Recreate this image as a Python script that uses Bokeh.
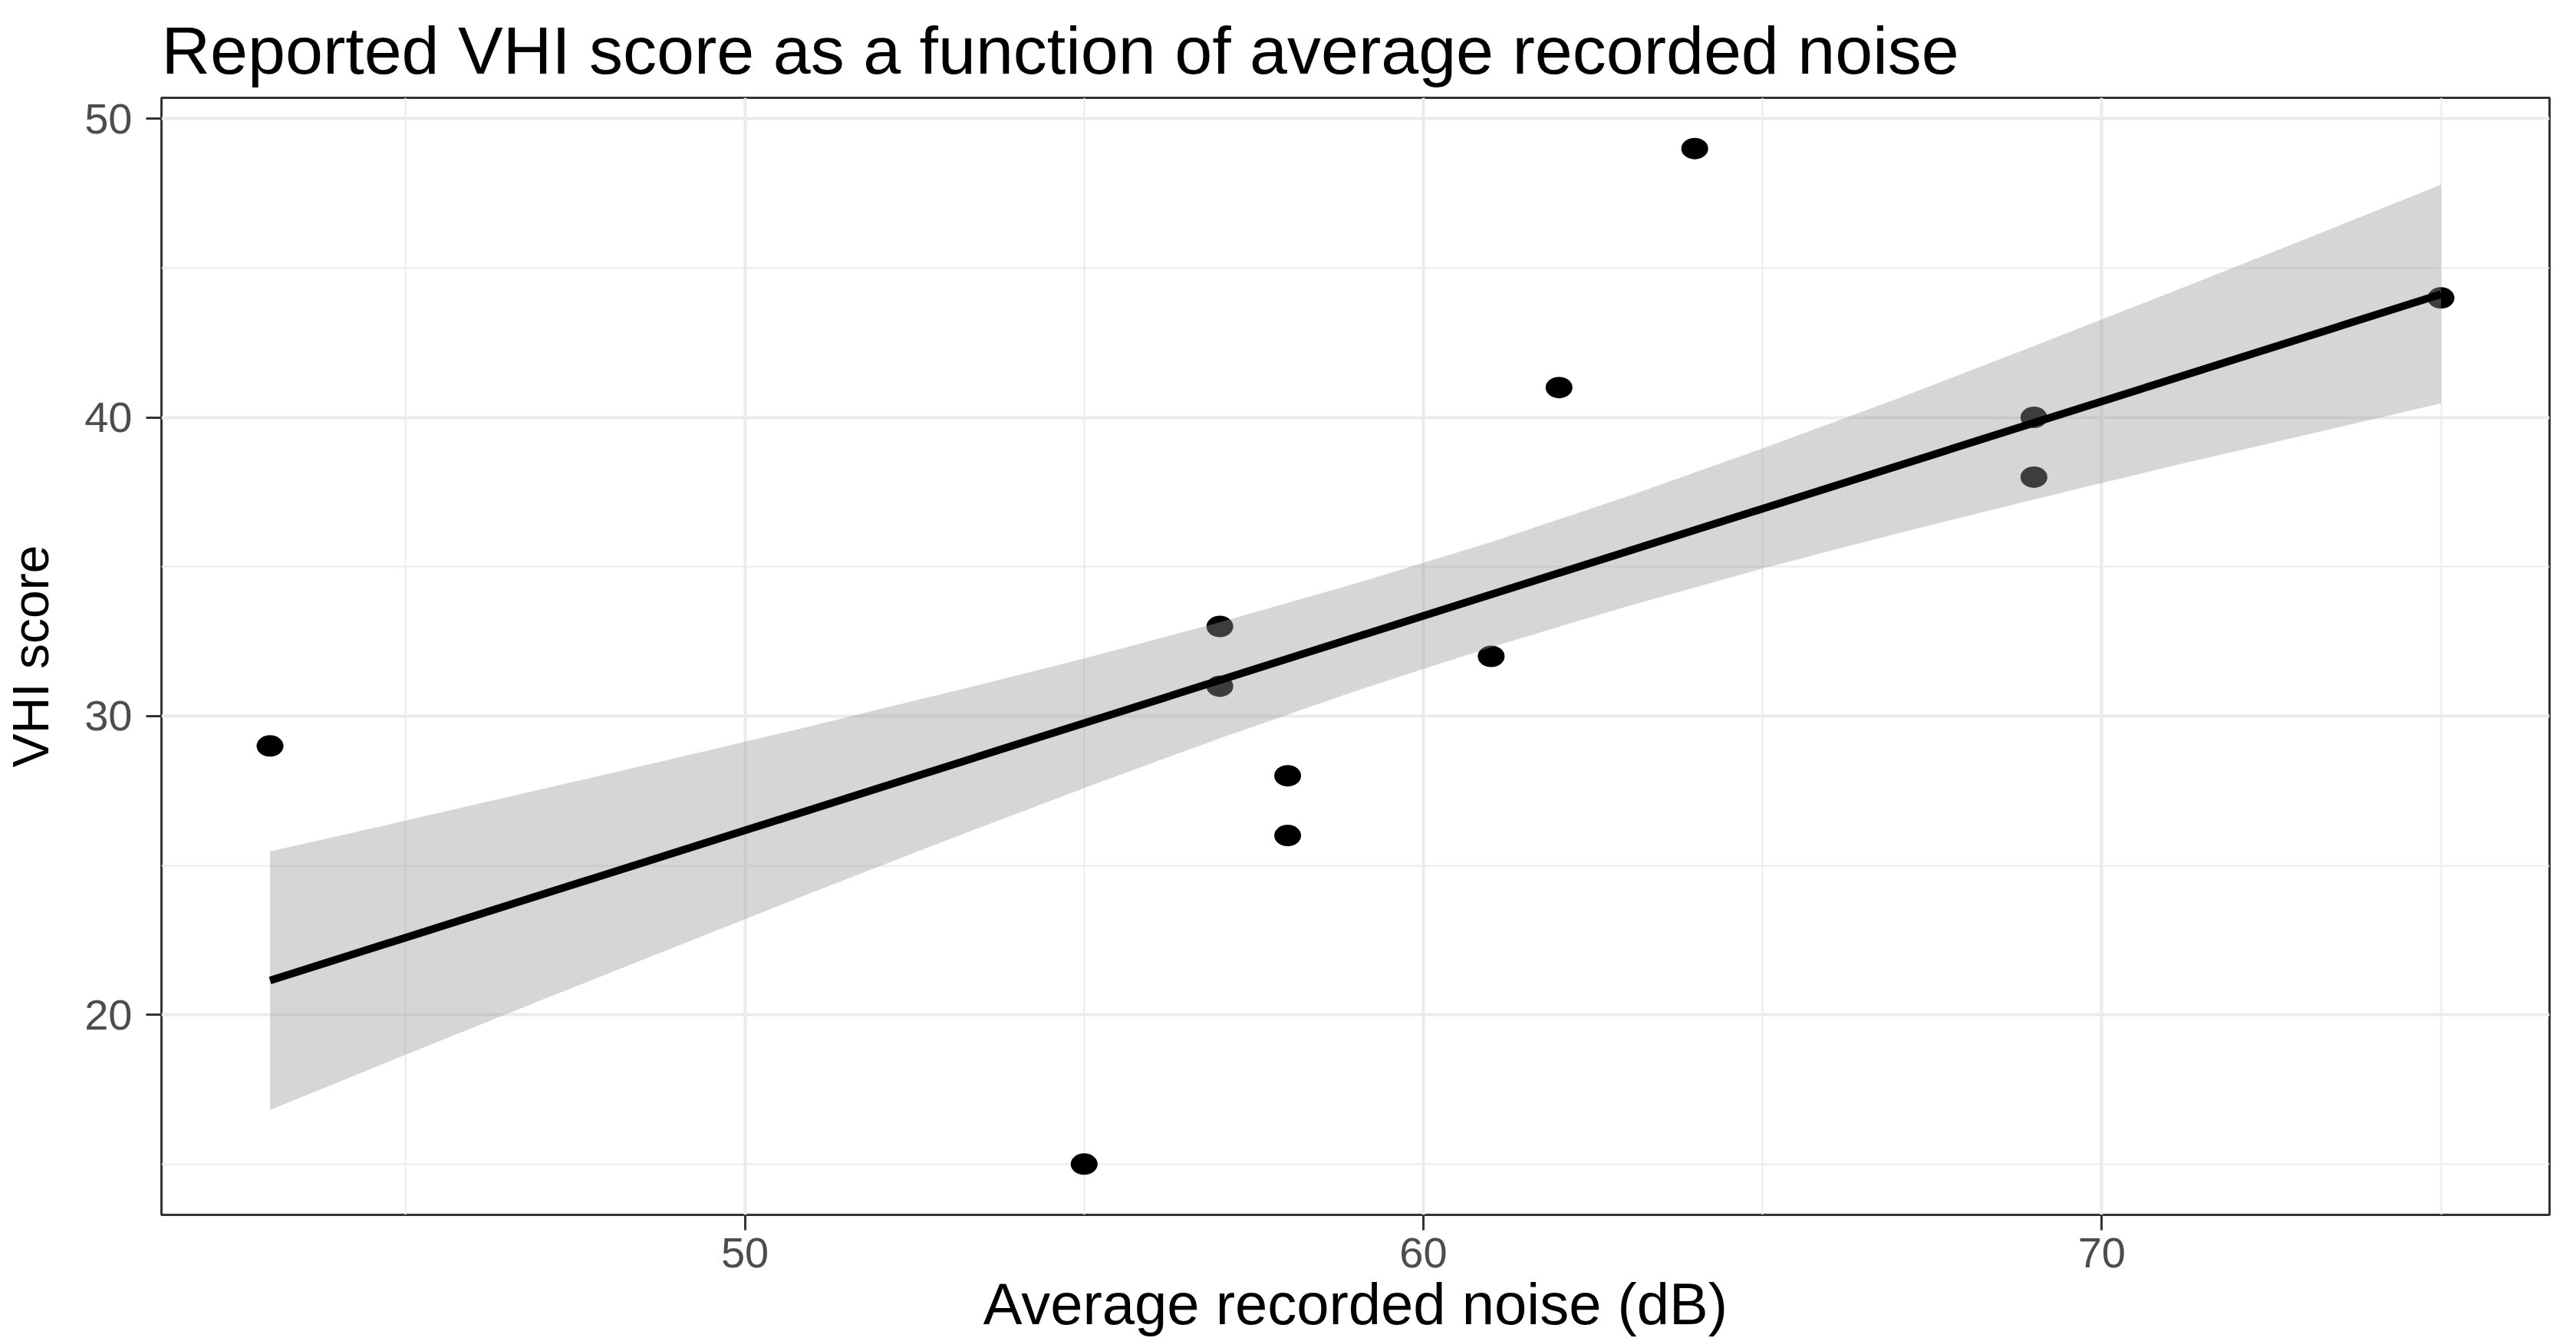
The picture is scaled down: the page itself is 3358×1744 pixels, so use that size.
import numpy as np
from bokeh.plotting import figure
from bokeh.models import FixedTicker, Range1d, ColumnDataSource
from bokeh.embed import file_html
from bokeh.resources import INLINE

# ---- data ----
noise_db = [43, 55, 57, 57, 58, 58, 61, 62, 64, 69, 69, 75]
vhi_score = [29, 15, 33, 31, 28, 26, 32, 41, 49, 40, 38, 44]

# confidence band of the linear fit
band_x = [43, 45, 47, 49, 51, 53, 55, 57, 59, 61, 63, 65, 67, 69, 71, 73, 75]
band_hi = [25.47, 26.50, 27.55, 28.60, 29.68, 30.79, 31.93, 33.14, 34.44, 35.83, 37.35,
           38.96, 40.64, 42.39, 44.17, 45.97, 47.79]
band_lo = [16.81, 18.66, 20.49, 22.30, 24.10, 25.87, 27.59, 29.26, 30.84, 32.31, 33.67,
           34.94, 36.12, 37.25, 38.35, 39.41, 40.47]

x_major = [50, 60, 70]
x_minor = [45, 55, 65, 75]
y_major = [20, 30, 40, 50]
y_minor = [15, 25, 35, 45]

title_text = "Reported VHI score as a function of average recorded noise"
x_title = "Average recorded noise (dB)"
y_title = "VHI score"

# linear fit (like geom_smooth(method = "lm"))
slope, intercept = np.polyfit(noise_db, vhi_score, 1)
fit_x = [min(noise_db), max(noise_db)]
fit_y = [intercept + slope * v for v in fit_x]

FONT = "Liberation Sans"

p = figure(frame_width=3113, frame_height=1456, output_backend="svg", toolbar_location=None,
           x_range=Range1d(41.4, 76.6), y_range=Range1d(13.3, 50.7),
           min_border_left=210, min_border_right=19, min_border_top=116, min_border_bottom=154)

p.background_fill_color = "white"
p.border_fill_color = "white"
p.outline_line_color = "#333333"
p.outline_line_width = 3

p.title.text = title_text
p.title.text_font = FONT
p.title.text_font_size = "88px"
p.title.text_font_style = "normal"
p.title.text_color = "black"
p.title.align = "left"
p.title.standoff = 26

for ax, major, minor in ((p.xaxis[0], x_major, x_minor), (p.yaxis[0], y_major, y_minor)):
    ax.ticker = FixedTicker(ticks=major, minor_ticks=minor)
    ax.axis_line_color = None
    ax.major_tick_line_color = "#333333"
    ax.major_tick_line_width = 3
    ax.major_tick_in = 0
    ax.major_tick_out = 20
    ax.minor_tick_line_color = None
    ax.major_label_text_font = FONT
    ax.major_label_text_font_size = "56px"
    ax.major_label_text_color = "#4d4d4d"
    ax.axis_label_text_font = FONT
    ax.axis_label_text_font_style = "normal"
    ax.axis_label_text_color = "black"

p.xaxis.axis_label = x_title
p.yaxis.axis_label = y_title
p.xaxis.axis_label_text_font_size = "76px"
p.yaxis.axis_label_text_font_size = "66px"
p.xaxis.major_label_standoff = 10
p.yaxis.major_label_standoff = 18
p.xaxis.axis_label_standoff = 2
p.yaxis.axis_label_standoff = 30

for g in (p.xgrid[0], p.ygrid[0]):
    g.grid_line_color = "#ebebeb"
    g.grid_line_width = 4
    g.minor_grid_line_color = "#ebebeb"
    g.minor_grid_line_width = 2
p.xgrid.ticker = FixedTicker(ticks=x_major, minor_ticks=x_minor)
p.ygrid.ticker = FixedTicker(ticks=y_major, minor_ticks=y_minor)

pts = ColumnDataSource(dict(x=noise_db, y=vhi_score))
p.ellipse(x="x", y="y", width=35, height=28, width_units="screen", height_units="screen",
          source=pts, fill_color="black", line_color=None)

p.varea(x=band_x, y1=band_lo, y2=band_hi, fill_color="#999999", fill_alpha=0.4)
p.line(fit_x, fit_y, line_color="black", line_width=10)

open("out.html", "w").write(file_html(p, INLINE))
